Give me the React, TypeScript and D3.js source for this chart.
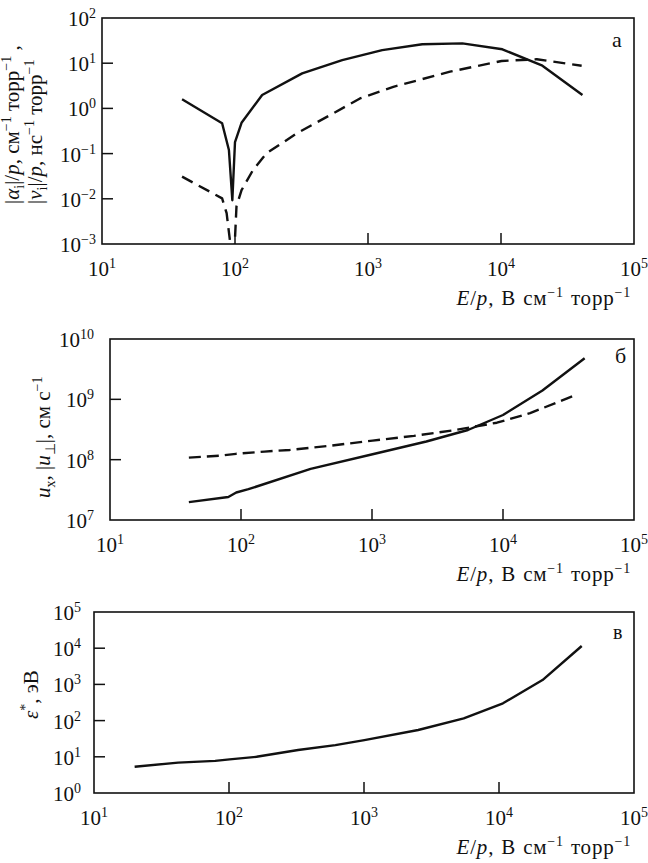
import React from "react";
import * as d3 from "d3";

// ---------- data ----------
const xTicks = [10, 100, 1000, 10000, 100000];

// panel а : |alpha_i|/p (solid) and |nu_i|/p (dashed)
const alphaE = [40, 80, 90, 95.5, 100, 112, 160, 320, 640, 1280, 2560, 5120, 10240, 20480, 40960];
const alphaV = [1.6, 0.47, 0.12, 0.0093, 0.18, 0.48, 1.98, 5.97, 11.7, 19.5, 26.2, 27.5, 20.3, 8.8, 1.98];
const nuE = [40, 80, 86.5, 91.6, 96, 102.6, 112, 137, 173, 291, 550, 870, 1550, 4140, 10100, 18600, 40400];
const nuV = [0.031, 0.0102, 0.0048, 0.0012, 0.0001, 0.0068, 0.0155, 0.044, 0.102, 0.28, 0.78, 1.66, 3.0, 6.5, 11.2, 12.2, 8.8];
const aYTicks = [1e-3, 1e-2, 1e-1, 1, 10, 100];
const aYExp = ["−3", "−2", "−1", "0", "1", "2"];

// panel б : u_x (solid) and |u_perp| (dashed)
const uxE = [40, 80, 92, 114, 340, 1010, 2600, 5400, 10000, 20000, 42000];
const uxV = [1.98e7, 2.4e7, 2.86e7, 3.24e7, 7.05e7, 1.23e8, 2.0e8, 3.1e8, 5.5e8, 1.4e9, 4.8e9];
const upE = [40, 68.5, 91.6, 151, 236, 489, 1010, 2090, 4330, 8980, 16100, 35800];
const upV = [1.08e8, 1.16e8, 1.25e8, 1.36e8, 1.45e8, 1.71e8, 2.07e8, 2.48e8, 3.1e8, 4.1e8, 5.9e8, 1.18e9];
const bYTicks = [1e7, 1e8, 1e9, 1e10];
const bYExp = ["7", "8", "9", "10"];

// panel в : eps*
const epsE = [20, 42, 79, 101, 160, 325, 614, 1007, 2520, 5480, 10700, 21000, 41000];
const epsV = [5.3, 6.9, 7.7, 8.5, 10, 15.4, 21, 29, 55, 115, 300, 1320, 11500];
const cYTicks = [1, 10, 100, 1000, 10000, 100000];
const cYExp = ["0", "1", "2", "3", "4", "5"];

const FONT = "Liberation Serif, Times New Roman, Times, serif";
const FS = 21;
const SS = 14;

type Seg = { t: string; i?: boolean; sup?: boolean; sub?: boolean };

function Rich({ segs, size, small }: { segs: Seg[]; size: number; small: number }) {
  let shift = 0;
  const out: React.ReactNode[] = [];
  segs.forEach((s, k) => {
    const target = s.sup ? -Math.round(size * 0.4) : s.sub ? Math.round(size * 0.25) : 0;
    const dy = target - shift;
    shift = target;
    out.push(
      <tspan
        key={k}
        dy={dy}
        fontSize={s.sup || s.sub ? small : size}
        fontStyle={s.i ? "italic" : "normal"}
      >
        {s.t}
      </tspan>
    );
  });
  return <>{out}</>;
}

const xTitle: Seg[] = [
  { t: "E", i: true },
  { t: "/" },
  { t: "p", i: true },
  { t: ", В см" },
  { t: "−1", sup: true },
  { t: " торр" },
  { t: "−1", sup: true },
];

type Series = { e: number[]; v: number[]; dash?: string };

function Panel({
  id, left, right, top, bottom, yDomain, yTicks, yExp, yLabEnd, series, letter, letterX, letterY, letterSize,
}: {
  id: string; left: number; right: number; top: number; bottom: number;
  yDomain: [number, number]; yTicks: number[]; yExp: string[]; yLabEnd: number;
  series: Series[]; letter: string; letterX: number; letterY: number; letterSize: number;
}) {
  const x = d3.scaleLog().domain([10, 100000]).range([left, right]);
  const y = d3.scaleLog().domain(yDomain).range([bottom, top]);
  const line = d3.line<[number, number]>().x((d) => x(d[0])).y((d) => y(d[1]));
  return (
    <g>
      <defs>
        <clipPath id={"clip" + id}>
          <rect x={left} y={top} width={right - left} height={bottom - top} />
        </clipPath>
      </defs>
      <rect x={left} y={top} width={right - left} height={bottom - top} fill="none" stroke="#111" strokeWidth={1.6} />
      {xTicks.slice(1, -1).map((t) => (
        <line key={"xt" + t} x1={x(t)} x2={x(t)} y1={bottom} y2={bottom - 11} stroke="#111" strokeWidth={1.5} />
      ))}
      {yTicks.slice(1, -1).map((t) => (
        <line key={"yt" + t} x1={left} x2={left + 11} y1={y(t)} y2={y(t)} stroke="#111" strokeWidth={1.5} />
      ))}
      {xTicks.map((t, k) => (
        <text key={"xl" + t} x={x(t)} y={bottom + 32} textAnchor="middle" fontFamily={FONT} fontSize={FS} fill="#111">
          <Rich segs={[{ t: "10" }, { t: String(k + 1), sup: true }]} size={FS} small={SS} />
        </text>
      ))}
      {yTicks.map((t, k) => (
        <text key={"yl" + t} x={yLabEnd} y={y(t) + 8} textAnchor="end" fontFamily={FONT} fontSize={FS} fill="#111">
          <Rich segs={[{ t: "10" }, { t: yExp[k], sup: true }]} size={FS} small={SS} />
        </text>
      ))}
      <g clipPath={`url(#clip${id})`}>
        {series.map((s, k) => (
          <path
            key={k}
            d={line(s.e.map((e, j) => [e, s.v[j]] as [number, number])) || ""}
            fill="none"
            stroke="#111"
            strokeWidth={2.4}
            strokeDasharray={s.dash}
            strokeLinejoin="round"
          />
        ))}
      </g>
      <text x={letterX} y={letterY} fontFamily={FONT} fontSize={letterSize} fill="#111">{letter}</text>
      <text x={631} y={bottom + 61} textAnchor="end" fontFamily={FONT} fontSize={FS} fill="#111"
        wordSpacing={1} letterSpacing={0.8}>
        <Rich segs={xTitle} size={FS} small={SS} />
      </text>
    </g>
  );
}

export default function App() {
  return (
    <svg
      width={648}
      height={863}
      fontFamily={FONT}
      style={{ position: "absolute", left: 0, top: 0, background: "#fff" }}
    >
      <rect width={648} height={863} fill="#fff" />
      <Panel
        id="a" left={102} right={634} top={18} bottom={244}
        yDomain={[1e-3, 1e2]} yTicks={aYTicks} yExp={aYExp} yLabEnd={96}
        series={[{ e: alphaE, v: alphaV }, { e: nuE, v: nuV, dash: "12,7" }]}
        letter="а" letterX={612} letterY={47} letterSize={22}
      />
      <Panel
        id="b" left={110} right={634} top={339} bottom={520}
        yDomain={[1e7, 1e10]} yTicks={bYTicks} yExp={bYExp} yLabEnd={94}
        series={[{ e: uxE, v: uxV }, { e: upE, v: upV, dash: "12,6" }]}
        letter="б" letterX={615} letterY={363} letterSize={22}
      />
      <Panel
        id="c" left={94} right={634} top={612} bottom={793}
        yDomain={[1, 1e5]} yTicks={cYTicks} yExp={cYExp} yLabEnd={81}
        series={[{ e: epsE, v: epsV }]}
        letter="в" letterX={613} letterY={639} letterSize={20}
      />
      {/* y titles */}
      <text transform="translate(19,204) rotate(-90)" fontFamily={FONT} fontSize={FS} fill="#111">
        <Rich
          segs={[
            { t: "|" }, { t: "α", i: true }, { t: "i", sub: true }, { t: "|/" }, { t: "p", i: true },
            { t: ", см" }, { t: "−1", sup: true }, { t: " торр" }, { t: "−1", sup: true }, { t: " ," },
          ]}
          size={FS} small={SS}
        />
      </text>
      <text transform="translate(42,204) rotate(-90)" fontFamily={FONT} fontSize={FS} fill="#111">
        <Rich
          segs={[
            { t: "|" }, { t: "ν", i: true }, { t: "i", sub: true }, { t: "|/" }, { t: "p", i: true },
            { t: ", нс" }, { t: "−1", sup: true }, { t: " торр" }, { t: "−1", sup: true },
          ]}
          size={FS} small={SS}
        />
      </text>
      <text transform="translate(50,498) rotate(-90)" fontFamily={FONT} fontSize={FS} fill="#111">
        <Rich
          segs={[
            { t: "u", i: true }, { t: "x", sub: true }, { t: ", |" }, { t: "u", i: true }, { t: "⊥", sub: true },
            { t: "|, см с" }, { t: "−1", sup: true },
          ]}
          size={FS} small={SS}
        />
      </text>
      <text transform="translate(38,719) rotate(-90)" fontFamily={FONT} fontSize={FS} fill="#111">
        <Rich segs={[{ t: "ε", i: true }, { t: "*", sup: true }, { t: ", эВ" }]} size={FS} small={SS} />
      </text>
    </svg>
  );
}
